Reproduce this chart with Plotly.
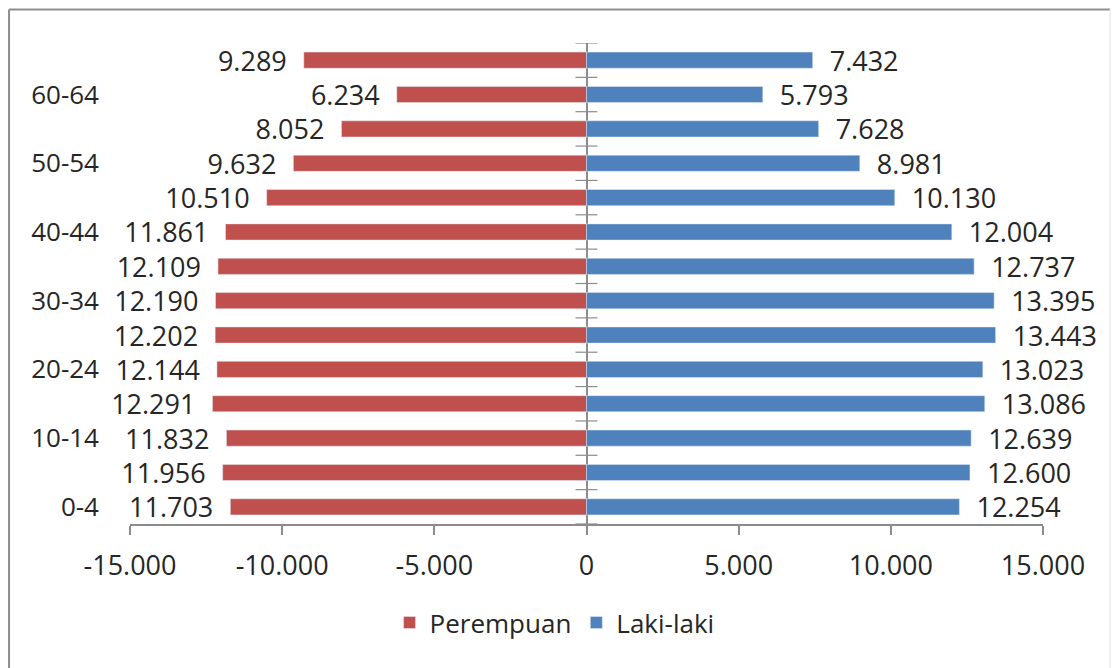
import plotly.graph_objects as go

# Age groups, bottom to top
age_groups = ["0-4", "5-9", "10-14", "15-19", "20-24", "25-29", "30-34",
              "35-39", "40-44", "45-49", "50-54", "55-59", "60-64", "65+"]

# Population by sex (persons), same order as age_groups
perempuan = [11703, 11956, 11832, 12291, 12144, 12202, 12190,
             12109, 11861, 10510, 9632, 8052, 6234, 9289]
laki_laki = [12254, 12600, 12639, 13086, 13023, 13443, 13395,
             12737, 12004, 10130, 8981, 7628, 5793, 7432]

x_tick_vals = [-15000, -10000, -5000, 0, 5000, 10000, 15000]
x_tick_text = ["-15.000", "-10.000", "-5.000", "0", "5.000", "10.000", "15.000"]
y_tick_labels = ["0-4", "10-14", "20-24", "30-34", "40-44", "50-54", "60-64"]


def fmt(v):
    return f"{v:,}".replace(",", ".")


RED = "#C0504D"
BLUE = "#4F81BD"
TEXT = "#262626"
AXIS = "#8C8C8C"
FONT = "Open Sans"

fig = go.Figure()
fig.add_trace(go.Bar(
    name="Perempuan", y=age_groups, x=[-v for v in perempuan],
    orientation="h", marker_color=RED, width=0.47,
    text=[fmt(v) + "  " for v in perempuan], textposition="outside",
    constraintext="none", cliponaxis=False,
    textfont=dict(size=27, color=TEXT, family=FONT),
    hovertemplate="%{y}: %{text}<extra>Perempuan</extra>",
))
fig.add_trace(go.Bar(
    name="Laki-laki", y=age_groups, x=laki_laki,
    orientation="h", marker_color=BLUE, width=0.47,
    text=["  " + fmt(v) for v in laki_laki], textposition="outside",
    constraintext="none", cliponaxis=False,
    textfont=dict(size=27, color=TEXT, family=FONT),
    hovertemplate="%{y}: %{text}<extra>Laki-laki</extra>",
))

# Cross ticks on the central (zero) axis at the category boundaries
n = len(age_groups)
for k in range(n + 1):
    fig.add_shape(type="line", xref="x", yref="y",
                  x0=-360, x1=360, y0=k - 0.5, y1=k - 0.5,
                  line=dict(color=AXIS, width=1.2), layer="below")

# Chart frame
frame = dict(color="#8E8E8E", width=2)
fig.add_shape(type="line", xref="paper", yref="paper",
              x0=-0.1325, x1=1.0734, y0=1.0697, y1=1.0697, line=frame)
fig.add_shape(type="line", xref="paper", yref="paper",
              x0=-0.1325, x1=-0.1325, y0=1.0697, y1=-0.32, line=frame)
fig.add_shape(type="line", xref="paper", yref="paper",
              x0=1.0734, x1=1.0734, y0=1.0697, y1=-0.32,
              line=dict(color="#EBEBEB", width=1.5))

fig.update_layout(
    width=1116, height=668,
    margin=dict(l=130, r=73, t=43, b=144),
    paper_bgcolor="white", plot_bgcolor="white",
    barmode="overlay",
    font=dict(family=FONT, size=26, color=TEXT),
    showlegend=True,
    legend=dict(orientation="h", x=0.465, y=-0.205,
                xanchor="center", yanchor="middle",
                font=dict(size=26, color=TEXT, family=FONT),
                itemwidth=30, traceorder="normal"),
    xaxis=dict(range=[-15000, 15000], tickvals=x_tick_vals, ticktext=x_tick_text,
               showgrid=False, zeroline=True, zerolinecolor=AXIS, zerolinewidth=1.5,
               showline=True, linecolor=AXIS, linewidth=1.5,
               ticks="outside", ticklen=9, tickcolor=AXIS, tickwidth=1.5,
               ticklabelstandoff=8,
               tickfont=dict(size=27, color=TEXT, family=FONT), fixedrange=True),
    yaxis=dict(categoryorder="array", categoryarray=age_groups,
               range=[-0.5, n - 0.5],
               tickvals=y_tick_labels, ticktext=y_tick_labels,
               showgrid=False, zeroline=False, showline=False, ticks="",
               ticklabelstandoff=30,
               tickfont=dict(size=26, color=TEXT, family=FONT), fixedrange=True),
)

fig.write_html("out.html")
